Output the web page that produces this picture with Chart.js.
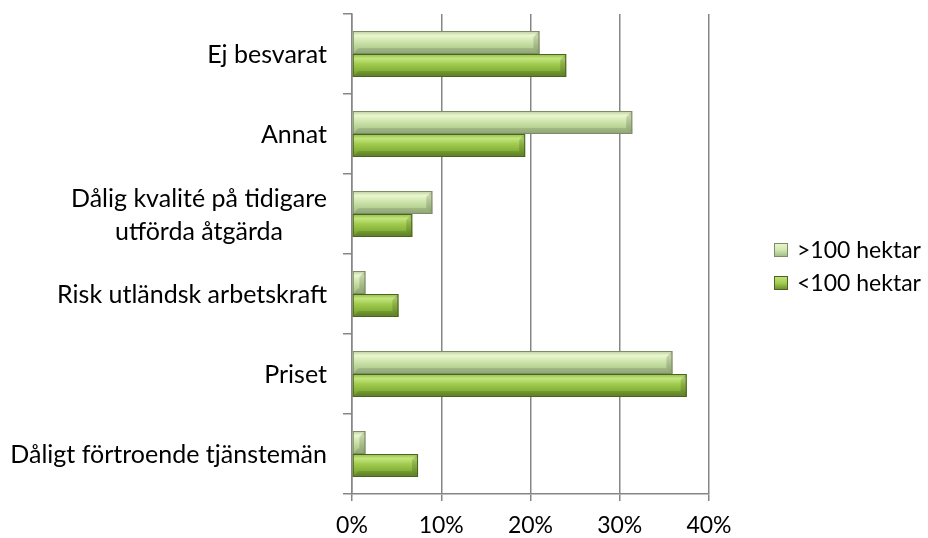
<!DOCTYPE html>
<html>
<head>
<meta charset="utf-8">
<script src="https://cdn.jsdelivr.net/npm/chart.js@4.4.1/dist/chart.umd.min.js"></script>
<style>
    html, body { margin: 0; padding: 0; background: #fff; }
    #wrap { width: 928px; height: 538px; }
</style>
</head>
<body>
<div id="wrap"><canvas id="chart-atgarder" width="928" height="538"></canvas></div>
<script>
// Orsaker - andel svar per gårdsstorlek
const kategorier = [
    'Ej besvarat',
    'Annat',
    ['Dålig kvalité på tidigare', 'utförda åtgärda'],
    'Risk utländsk arbetskraft',
    'Priset',
    'Dåligt förtroende tjänstemän'
];
const serieNamn = ['>100 hektar', '<100 hektar'];
const over100 = [21.0, 31.4, 9.0, 1.5, 35.9, 1.5];
const under100 = [24.0, 19.4, 6.75, 5.2, 37.5, 7.4];
const xMin = 0;
const xMax = 40;
const xSteg = 10;

const FONT = 'Lato, "Open Sans", sans-serif';
const FONT_SIZE = 25;
const SMALL_SIZE = 23;
const GRID = '#868686';

// färger per serie: [topp, ljus rand, mitten, nedre, kant]
const stilar = [
    { fill: '#c4da9f', stops: ['#b9cf9a', '#ebf7d1', '#d2e7b0', '#b9d296', '#9eb782'], border: '#7b8c66' },
    { fill: '#8dbb3e', stops: ['#90bf42', '#c4e57e', '#a3cd52', '#87b43a', '#66882a'], border: '#4b6421' }
];

const ytterligarePlugin = {
    id: 'bevelOchEtiketter',
    beforeDatasetsDraw(chart) {
        const ctx = chart.ctx;
        ctx.save();
        ctx.shadowColor = 'rgba(0,0,0,0.35)';
        ctx.shadowBlur = 6;
        ctx.shadowOffsetX = 2;
        ctx.shadowOffsetY = 3;
    },
    afterDatasetsDraw(chart) {
        const ctx = chart.ctx;
        ctx.restore();

        chart.data.datasets.forEach((ds, di) => {
            const meta = chart.getDatasetMeta(di);
            const st = stilar[di];
            meta.data.forEach(el => {
                const p = el.getProps(['x', 'y', 'base', 'height'], true);
                const left = Math.min(p.x, p.base);
                const right = Math.max(p.x, p.base);
                const top = p.y - p.height / 2;
                const bottom = p.y + p.height / 2;
                const g = ctx.createLinearGradient(0, top, 0, bottom);
                g.addColorStop(0, st.stops[0]);
                g.addColorStop(0.2, st.stops[1]);
                g.addColorStop(0.42, st.stops[2]);
                g.addColorStop(0.7, st.stops[3]);
                g.addColorStop(1, st.stops[4]);
                ctx.save();
                ctx.fillStyle = g;
                ctx.fillRect(left, top, right - left, bottom - top);

                // fasade ändar
                const b = Math.min(6, (right - left) / 2);
                ctx.fillStyle = 'rgba(0,0,0,0.14)';
                ctx.beginPath();
                ctx.moveTo(right, top);
                ctx.lineTo(right - b, top + b);
                ctx.lineTo(right - b, bottom - b);
                ctx.lineTo(right, bottom);
                ctx.closePath();
                ctx.fill();
                ctx.fillStyle = 'rgba(0,0,0,0.10)';
                ctx.beginPath();
                ctx.moveTo(left, bottom);
                ctx.lineTo(left + b, bottom - b);
                ctx.lineTo(right - b, bottom - b);
                ctx.lineTo(right, bottom);
                ctx.closePath();
                ctx.fill();

                ctx.strokeStyle = st.border;
                ctx.lineWidth = 1;
                ctx.strokeRect(left + 0.5, top + 0.5, right - left - 1, bottom - top - 1);
                ctx.restore();
            });
        });
    },
    afterDraw(chart) {
        const ctx = chart.ctx;
        const yScale = chart.scales.y;
        ctx.save();
        ctx.font = FONT_SIZE + 'px ' + FONT;
        ctx.fillStyle = '#000';
        ctx.textBaseline = 'middle';

        // kategorietiketter, högerställda, flerradiga centrerade inbördes
        const hoger = chart.chartArea.left - 25;
        kategorier.forEach((lbl, i) => {
            const rader = Array.isArray(lbl) ? lbl : [lbl];
            const yc = yScale.getPixelForTick(i);
            const bredd = Math.max(...rader.map(r => ctx.measureText(r).width));
            const mitt = hoger - bredd / 2;
            const radH = 33;
            rader.forEach((r, ri) => {
                const y = yc + (ri - (rader.length - 1) / 2) * radH;
                ctx.textAlign = 'center';
                ctx.fillText(r, mitt, y + 1);
            });
        });

        // förklaring
        ctx.font = SMALL_SIZE + 'px ' + FONT;
        const lx = chart.chartArea.right + 65;
        const ly = chart.height / 2 - 19;
        serieNamn.forEach((namn, i) => {
            const st = stilar[i];
            const y = ly + i * 33;
            const g = ctx.createLinearGradient(0, y - 7, 0, y + 7);
            g.addColorStop(0, st.stops[1]);
            g.addColorStop(0.5, st.stops[2]);
            g.addColorStop(1, st.stops[4]);
            ctx.fillStyle = g;
            ctx.fillRect(lx, y - 7, 14, 14);
            ctx.strokeStyle = st.border;
            ctx.lineWidth = 1;
            ctx.strokeRect(lx + 0.5, y - 6.5, 13, 13);
            ctx.fillStyle = '#000';
            ctx.textAlign = 'left';
            ctx.fillText(namn, lx + 23, y + 1);
        });
        ctx.restore();
    }
};

function initChart() {
    const ctx = document.getElementById('chart-atgarder');

    new Chart(ctx, {
        type: 'bar',
        data: {
            labels: kategorier,
            datasets: [{
                label: serieNamn[0],
                data: over100,
                backgroundColor: stilar[0].fill,
                borderColor: stilar[0].border,
                borderWidth: 1
            }, {
                label: serieNamn[1],
                data: under100,
                backgroundColor: stilar[1].fill,
                borderColor: stilar[1].border,
                borderWidth: 1
            }]
        },
        options: {
            indexAxis: 'y',
            responsive: false,
            animation: false,
            categoryPercentage: 0.575,
            barPercentage: 1.0,
            layout: {
                padding: { top: 14, right: 219, left: 0, bottom: 0 }
            },
            plugins: {
                legend: { display: false },
                tooltip: { enabled: false }
            },
            scales: {
                x: {
                    min: xMin,
                    max: xMax,
                    ticks: {
                        stepSize: xSteg,
                        color: '#000',
                        padding: 11,
                        font: { family: FONT, size: SMALL_SIZE },
                        callback: v => v + '%'
                    },
                    grid: {
                        color: GRID,
                        lineWidth: 1.5,
                        tickLength: 7
                    },
                    border: { color: GRID, width: 1.5 },
                    afterFit: s => { s.height = 44; }
                },
                y: {
                    offset: true,
                    ticks: { display: false },
                    grid: {
                        offset: true,
                        drawOnChartArea: false,
                        drawTicks: true,
                        tickLength: 9,
                        color: GRID,
                        lineWidth: 1.5
                    },
                    border: { color: GRID, width: 1.5 },
                    afterFit: s => { s.width = 352; }
                }
            }
        },
        plugins: [ytterligarePlugin]
    });
}

initChart();
</script>
</body>
</html>
